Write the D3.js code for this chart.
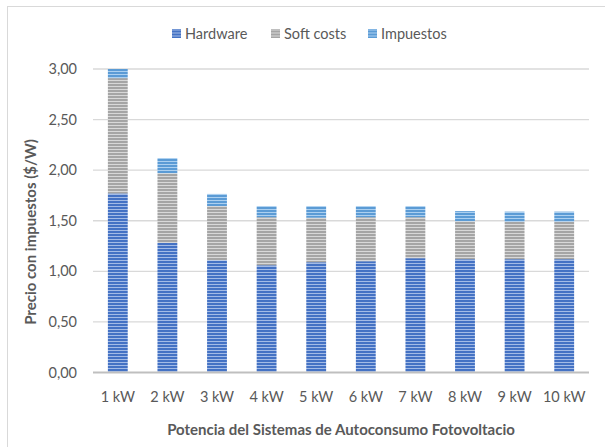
<!DOCTYPE html>
<html>
<head>
<meta charset="utf-8">
<script src="https://cdn.jsdelivr.net/npm/d3@7"></script>
<style>
  body { margin: 0; background: #fff; }
  svg { display: block; font-family: Lato, "Open Sans", sans-serif; }
</style>
</head>
<body>
<svg width="605" height="447"></svg>
<script>
const categories = ["1 kW", "2 kW", "3 kW", "4 kW", "5 kW", "6 kW", "7 kW", "8 kW", "9 kW", "10 kW"];
const hardware = [1.77, 1.28, 1.11, 1.06, 1.09, 1.10, 1.13, 1.12, 1.12, 1.12];
const softCosts = [1.14, 0.69, 0.535, 0.475, 0.44, 0.435, 0.405, 0.375, 0.37, 0.37];
const impuestos = [0.09, 0.15, 0.12, 0.11, 0.115, 0.11, 0.11, 0.10, 0.10, 0.10];
const seriesNames = ["Hardware", "Soft costs", "Impuestos"];
const yTicks = [0, 0.5, 1, 1.5, 2, 2.5, 3];

// stripe colours per series: [main, light]
const stripes = [["#4472c4", "#a3bbe6"], ["#a5a5a5", "#d8d8d8"], ["#5b9bd5", "#acd0f0"]];

const svg = d3.select("svg");
const margin = {left: 93, right: 16, top: 69, bottom: 74.5};
const W = 605, H = 447;
const textColor = "#595959";

// chart frame
svg.append("rect")
  .attr("x", 7.5).attr("y", 6.5)
  .attr("width", 620).attr("height", 460)
  .attr("fill", "none").attr("stroke", "#d9d9d9");

const defs = svg.append("defs");
stripes.forEach((c, i) => {
  const p = defs.append("pattern")
    .attr("id", "stripe" + i)
    .attr("patternUnits", "userSpaceOnUse")
    .attr("width", 6).attr("height", 3);
  p.append("rect").attr("width", 6).attr("height", 3).attr("fill", c[0]);
  p.append("rect").attr("y", 2).attr("width", 6).attr("height", 1).attr("fill", c[1]);
});

const x = d3.scaleBand()
  .domain(categories)
  .range([margin.left, W - margin.right])
  .paddingInner(0.6)
  .paddingOuter(0.3);

const y = d3.scaleLinear()
  .domain([0, 3])
  .range([H - margin.bottom, margin.top]);

// gridlines
svg.append("g")
  .selectAll("line")
  .data(yTicks.slice(1))
  .join("line")
  .attr("x1", margin.left).attr("x2", W - margin.right)
  .attr("y1", d => y(d)).attr("y2", d => y(d))
  .attr("stroke", "#d9d9d9").attr("stroke-width", 1.3);

// y tick labels
const fmt = d => d3.format(".2f")(d).replace(".", ",");
svg.append("g")
  .selectAll("text")
  .data(yTicks)
  .join("text")
  .attr("x", 77).attr("y", d => y(d))
  .attr("dy", "0.35em")
  .attr("text-anchor", "end")
  .attr("font-size", 14.5)
  .attr("fill", textColor)
  .text(fmt);

// stacked bars
const rows = categories.map((c, i) => ({cat: c, h: hardware[i], s: softCosts[i], t: impuestos[i]}));
const stack = d3.stack().keys(["h", "s", "t"])(rows);

svg.append("g")
  .selectAll("g")
  .data(stack)
  .join("g")
  .attr("fill", (d, i) => "url(#stripe" + i + ")")
  .selectAll("rect")
  .data(d => d)
  .join("rect")
  .attr("x", d => x(d.data.cat))
  .attr("width", x.bandwidth())
  .attr("y", d => y(d[1]))
  .attr("height", d => y(d[0]) - y(d[1]));

// baseline axis
svg.append("line")
  .attr("x1", margin.left).attr("x2", W - margin.right)
  .attr("y1", y(0)).attr("y2", y(0))
  .attr("stroke", "#bfbfbf").attr("stroke-width", 2);

// x tick labels
svg.append("g")
  .selectAll("text")
  .data(categories)
  .join("text")
  .attr("x", d => x(d) + x.bandwidth() / 2)
  .attr("y", 402)
  .attr("text-anchor", "middle")
  .attr("font-size", 14.5)
  .attr("fill", textColor)
  .text(d => d);

// axis titles
svg.append("text")
  .attr("x", 341)
  .attr("y", 435)
  .attr("text-anchor", "middle")
  .attr("font-size", 15)
  .attr("font-weight", "bold")
  .attr("fill", textColor)
  .text("Potencia del Sistemas de Autoconsumo Fotovoltacio");

svg.append("text")
  .attr("transform", "translate(35.5,232) rotate(-90)")
  .attr("text-anchor", "middle")
  .attr("font-size", 15)
  .attr("font-weight", "bold")
  .attr("fill", textColor)
  .text("Precio con impuestos ($/W)");

// legend
const legendX = [172, 271, 368];
const legend = svg.append("g")
  .selectAll("g")
  .data(seriesNames)
  .join("g")
  .attr("transform", (d, i) => "translate(" + legendX[i] + ",33.5)");
legend.append("rect")
  .attr("y", -4.5).attr("width", 9).attr("height", 9)
  .attr("fill", (d, i) => "url(#stripe" + i + ")");
legend.append("text")
  .attr("x", 13).attr("dy", "0.35em")
  .attr("font-size", 14.5)
  .attr("fill", textColor)
  .text(d => d);
</script>
</body>
</html>
